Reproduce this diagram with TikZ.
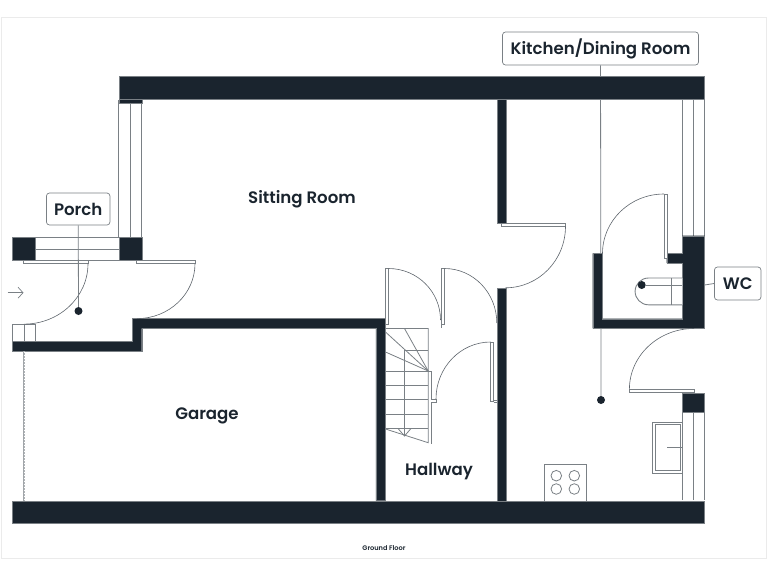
\documentclass[tikz,border=0pt]{standalone}
\usepackage{fontspec}
\setmainfont{Poppins}[BoldFont = {Poppins SemiBold}]
\usetikzlibrary{arrows.meta}
\definecolor{wallcol}{HTML}{1A242E}
\definecolor{linecol}{HTML}{7A8085}
\tikzset{
    wall/.style = {fill = wallcol, draw = linecol, line width = 0.4pt},
    thin line/.style = {draw = linecol, line width = 0.8pt},
    fixture/.style = {draw = linecol, line width = 0.9pt, fill = white},
    leaf/.style = {draw = linecol, line width = 0.8pt, fill = white},
    swing/.style = {draw = wallcol!70, line width = 0.6pt},
    roomlabel/.style = {text = wallcol, font = \fontsize{16.6}{19}\selectfont\bfseries},
    taglabel/.style = {draw = linecol, line width = 0.7pt, fill = white, rounded corners = 3pt, text = wallcol, font = \fontsize{16.6}{19}\selectfont\bfseries, anchor = center},
    leader/.style = {draw = linecol, line width = 0.8pt},
    dotmark/.style = {circle, fill = wallcol, inner sep = 0pt, minimum size = 8pt}
}
\begin{document}
\begin{tikzpicture}[x = 1pt, y = -1pt]
        \useasboundingbox (0,0) rectangle (768,576);
        \draw[draw = black!8, line width = 0.7pt] (1.5,17) rectangle (766,558);

        % leaders go under the walls
        \node[dotmark] (kitchendot) at (601,400) {};
        \node[dotmark] (porchdot) at (78.5,311) {};
        \node[dotmark] (wcdot) at (641.7,285) {};
        \node[taglabel, minimum width = 196pt, minimum height = 33pt] (kitchentag) at (600.5,48.5) {Kitchen/Dining Room};
        \node[taglabel, minimum width = 63.5pt, minimum height = 32pt] (porchtag) at (78.2,209) {Porch};
        \node[taglabel, minimum width = 46.5pt, minimum height = 33pt] (wctag) at (737.7,283.5) {WC};
        \draw[leader] (kitchentag) -- (kitchendot);

        % windows
        \draw[thin line] (118.7,100) -- (118.7,237.5) (130.3,100) -- (130.3,237.5) (141.7,100) -- (141.7,237.5);
        \draw[thin line] (35,237.5) -- (119,237.5) (35,249) -- (119,249) (35,260.3) -- (119,260.3);
        \draw[thin line] (682.3,100) -- (682.3,236) (693.7,100) -- (693.7,236) (704.6,100) -- (704.6,236);
        \draw[thin line] (682.3,412) -- (682.3,500) (693.7,412) -- (693.7,500) (704.6,412) -- (704.6,500);
        \draw[thin line] (12.7,324.5) rectangle (35,341.3) (24,324.5) -- (24,341.3);

        % walls
        \draw[wall] (118.7,76.5) rectangle (704.6,99.5);
        \draw[wall] (118.7,99) rectangle (141.7,102.7);
        \draw[wall] (12.5,237.3) rectangle (35,260.3);
        \draw[wall] (118.7,237.3) rectangle (141.7,260.3);
        \draw[wall] (12.5,341.3) -- (132,341.3) -- (132,318.5) -- (385.5,318.5) -- (385.5,500.7) -- (375.8,500.7) -- (375.8,328.4) -- (141.7,328.4) -- (141.7,351.3) -- (12.5,351.3) -- cycle;
        \draw[wall] (496.8,99) rectangle (506,223.3);
        \draw[wall] (496.8,287.7) rectangle (506,501);
        \draw[wall] (592.7,253.3) -- (602.3,253.3) -- (602.3,318.7) -- (682.3,318.7) -- (682.3,263) -- (666.7,263) -- (666.7,253.3) -- (682.3,253.3) -- (682.3,235.7) -- (704.6,235.7) -- (704.6,328.3) -- (592.7,328.3) -- cycle;
        \draw[wall] (682.3,393) rectangle (704.6,411.7);
        \draw[wall] (12.5,500.7) rectangle (704.6,523.3);

        % doors
        \draw[leaf] (23.5,260.3) rectangle (88,263.6);
        \draw[swing] (88,263.6) arc (0:90:64 and 60.5);
        \draw[leaf] (136.7,260.3) rectangle (195,263.6);
        \draw[swing] (195,263.6) arc (0:90:58 and 55);
        \draw[leaf] (501.5,223.3) rectangle (565.5,226.3);
        \draw[swing] (565.5,226.3) arc (0:90:60 and 61.5);
        \draw[leaf] (385.5,268.5) rectangle (388.5,324);
        \draw[swing] (388.5,268.5) arc (-90:0:52 and 51.5);
        \draw[leaf] (441.7,268.5) rectangle (444.5,324);
        \draw[thin line] (441.7,324) -- (441.7,328);
        \draw[swing] (444.5,268.5) arc (-90:0:52.3 and 54.5);
        \draw[leaf] (490.7,342) rectangle (493.7,401.5);
        \draw[thin line] (493.7,400) -- (496.8,400) (493.7,402) -- (496.8,402);
        \draw[swing] (490.7,342) arc (-90:-180:54.7 and 57);
        \draw[leaf] (664,194) rectangle (667,258);
        \draw[swing] (664,194) arc (-90:-180:61.5 and 59.5);
        \draw[leaf] (629.4,389.3) rectangle (694,392.8);
        \draw[swing] (629.4,389.3) arc (180:270:64.6 and 60.8);

        % garage door
        \draw[draw = linecol!70, line width = 0.7pt] (23,351.3) -- (23,500.7);
        \draw[draw = linecol!60, line width = 1.5pt, dash pattern = on 0.7pt off 0.8pt] (24.6,351.3) -- (24.6,500.7);

        % stairs
        \draw[thin line] (385.5,328.5) -- (428.2,328.5) -- (428.2,442.7) -- (385.5,429);
        \draw[thin line] (404.5,350) -- (404.5,436);
        \draw[thin line] (404.5,350) -- (428.2,350);
        \draw[thin line] (385.5,371) -- (428.2,371);
        \draw[thin line] (385.5,385.7) -- (428.2,385.7);
        \draw[thin line] (385.5,399.5) -- (428.2,399.5);
        \draw[thin line] (385.5,414) -- (428.2,414);
        \draw[thin line] (385.5,428.3) -- (428.2,428.3);
        \draw[thin line] (385.5,332) -- (428.2,371);
        \draw[thin line] (385.5,352) -- (428.2,371);
        \draw[thin line] (404.5,328.5) -- (428.2,371);
        \draw[thin line] (398,428.5) -- (404.5,436) -- (411,428.5);
        \draw[thin line] (428.2,371) -- (431.7,371) -- (431.7,399) -- (436,399) -- (436,402) -- (431.7,402) -- (431.7,444);

        % toilet
        \draw[fixture] (682.3,278) -- (648.5,278) arc (-90:-270:13.4) -- (682.3,304.8);
        \draw[thin line] (671.3,278) -- (671.3,304.8);
        \draw[thin line] (wcdot) -- (682.3,285);
        \node[dotmark] (wcdottop) at (wcdot) {};
        \draw[leader] (704.6,285) -- (wctag.west);

        % sink
        \draw[fixture] (652.3,422.3) rectangle (682.3,473.3);
        \draw[fixture] (655,424.8) rectangle (680,470.8);
        \draw[thin line] (667,447.5) -- (682.3,447.5);

        % hob
        \draw[fixture] (544.3,500.5) -- (544.3,464.3) -- (586.3,464.3) -- (586.3,500.5);
        \draw[thin line] (556.3,475.7) circle (5.3) (574.3,475.7) circle (5.3) (556.3,489) circle (5.3) (574.3,489) circle (5.3);

        % porch leader
        \draw[leader] (porchtag) -- (porchdot);
        \draw[draw = linecol, line width = 0.7pt, ->, >={Straight Barb[length=5pt,width=11pt]}] (7.5,292.7) -- (23.5,292.7);

        \node[roomlabel] (sitting) at (302,199.5) {Sitting Room};
        \node[roomlabel] (garage) at (207,416) {Garage};
        \node[roomlabel] (hallway) at (439,472) {Hallway};
        \node[text = wallcol, font = \fontsize{6.6}{8}\selectfont\bfseries] (floorname) at (384,548.5) {Ground Floor};
    \end{tikzpicture}
\end{document}
